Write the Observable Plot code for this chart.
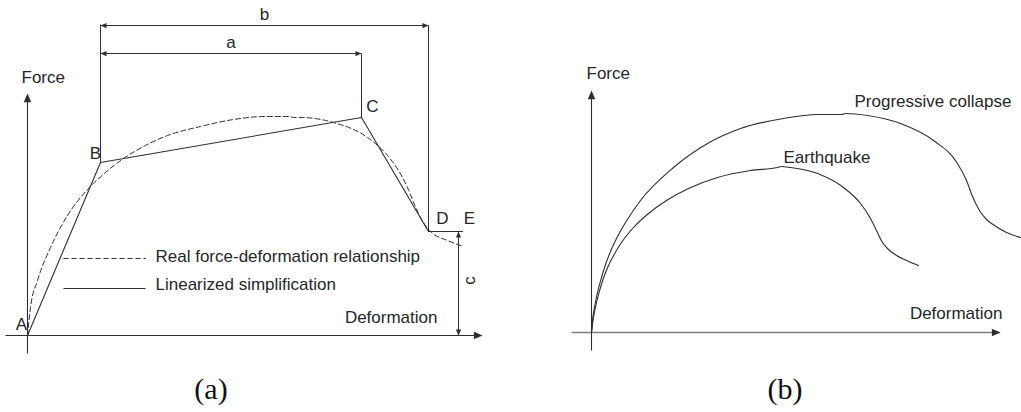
<!DOCTYPE html>
<html>
<head>
<meta charset="utf-8">
<script src="https://cdn.jsdelivr.net/npm/d3@7"></script>
<script src="https://cdn.jsdelivr.net/npm/@observablehq/plot@0.6"></script>
<style>
  body { margin: 0; background: #fff; }
  #figure { width: 1021px; position: relative; }
  #panels { display: flex; }
  #captions { position: relative; height: 52px; font-family: "Liberation Serif", "Times New Roman", serif; font-size: 30px; color: #111; }
  #captions span { position: absolute; top: 14px; transform: translateX(-50%); line-height: 1; }
</style>
</head>
<body>
<div id="figure">
  <div id="panels"></div>
  <div id="captions"></div>
</div>
<script>
// ---- Panel (a): real curve vs. linearized (A-B-C-D-E) simplification ----
const pointLabels = ["A", "B", "C", "D", "E"];
const pointDeformation = [0, 73, 334, 401, 435];
const pointForce = [0, 173, 218, 104, 104];

const realDeformation = [0, 3, 10, 23, 40, 60, 78, 96, 118, 140, 173, 206, 238, 262, 266, 273, 306, 340, 360, 371, 380, 387, 394, 403, 420, 436];
const realForce = [0, 28, 55, 88, 120, 146, 163, 177, 190, 200, 209, 216, 219, 219, 218, 218, 213, 198, 180, 165, 148, 131, 116, 104, 95, 89];

const legendLabels = ["Real force-deformation relationship", "Linearized simplification"];
const dimensionLabels = ["a", "b", "c"];

// ---- Panel (b): earthquake vs. progressive collapse ----
const progressiveDeformation = [0, 1, 3, 6, 10, 14, 19, 25, 34, 49, 82, 116, 149, 192, 226, 250, 254, 276, 309, 342, 366, 375, 381, 388, 395, 403, 415, 429];
const progressiveForce = [0, 12, 25, 40, 55, 68, 81, 94, 110, 132, 165, 189, 204, 214, 218, 218, 219, 217, 209, 192, 169, 152, 136, 122, 113, 107, 100, 95];
const earthquakeDeformation = [0, 2, 5, 9, 14, 21, 30, 42, 57, 75, 97, 126, 159, 186, 190, 199, 226, 252, 269, 279, 285, 291, 297, 305, 315, 327];
const earthquakeForce = [0, 15, 30, 45, 60, 75, 90, 105, 119, 132, 144, 155, 162, 165, 166, 165, 159, 145, 129, 114, 102, 90, 83, 77, 72, 67];
const seriesLabels = ["Progressive collapse", "Earthquake"];

const axisLabels = ["Force", "Deformation"];
const captionLabels = ["(a)", "(b)"];

// ---- shared styling ----
const font = "'Liberation Sans', Arial, Helvetica, sans-serif";
const ink = "#2b2f33";
const textInk = "#24272a";

// Filled arrowhead with its tip at the anchor point, pointing up before rotation.
const arrowHead = {
  draw(context, size) {
    const r = Math.sqrt(size / Math.PI);
    const h = r * 2.4, w = r * 1.05;
    context.moveTo(0, 0);
    context.lineTo(w, h);
    context.lineTo(-w, h);
    context.closePath();
  }
};

const zip = (xs, ys) => xs.map((x, i) => ({x, y: ys[i]}));

// ================= Panel (a) =================
const keyPoints = pointLabels.map((label, i) => ({label, x: pointDeformation[i], y: pointForce[i]}));
const [A, B, C, D, E] = keyPoints;
const realCurve = zip(realDeformation, realForce);

const levelA = 282, levelB = 310, cOffset = 30;
const cX = D.x + cOffset;
const axisA = {x0: -22, x1: 455, y0: -18, y1: 242};

const labelOffsets = {A: [-6, -11], B: [-5, -9], C: [11, -11], D: [14, -13], E: [7, -13]};

const legendA = {x0: 36, x1: 118, xText: 128, y: [77, 47], yText: [79, 51]};
const textStyle = {fontSize: 17, fontFamily: font, fill: textInk};

const plotA = Plot.plot({
  width: 500, height: 360, margin: 0,
  x: {domain: [-27, 473], axis: null},
  y: {domain: [-25, 335], axis: null},
  style: {background: "transparent"},
  marks: [
    // axes
    Plot.link([{}], {x1: axisA.x0, x2: axisA.x1 - 4, y1: 0, y2: 0, stroke: ink, strokeWidth: 1.1}),
    Plot.link([{}], {x1: 0, x2: 0, y1: axisA.y0, y2: axisA.y1 - 4, stroke: ink, strokeWidth: 1.1}),
    Plot.dot([{x: axisA.x1, y: 0}], {x: "x", y: "y", symbol: arrowHead, r: 3.6, rotate: 90, fill: ink, stroke: "none"}),
    Plot.dot([{x: 0, y: axisA.y1}], {x: "x", y: "y", symbol: arrowHead, r: 3.6, rotate: 0, fill: ink, stroke: "none"}),

    // extension lines for the dimensions
    Plot.link([{}], {x1: B.x, x2: B.x, y1: B.y, y2: levelB + 1, stroke: ink, strokeWidth: 1}),
    Plot.link([{}], {x1: C.x, x2: C.x, y1: C.y, y2: levelA, stroke: ink, strokeWidth: 1}),
    Plot.link([{}], {x1: D.x, x2: D.x, y1: D.y, y2: levelB, stroke: ink, strokeWidth: 1}),

    // dimension lines a, b (horizontal) and c (vertical)
    Plot.link([{}], {x1: B.x, x2: C.x, y1: levelA, y2: levelA, stroke: ink, strokeWidth: 1}),
    Plot.link([{}], {x1: B.x, x2: D.x, y1: levelB, y2: levelB, stroke: ink, strokeWidth: 1}),
    Plot.link([{}], {x1: cX, x2: cX, y1: 0, y2: D.y, stroke: ink, strokeWidth: 1}),
    Plot.dot([
      {x: B.x, y: levelA, rot: -90}, {x: C.x, y: levelA, rot: 90},
      {x: B.x, y: levelB, rot: -90}, {x: D.x, y: levelB, rot: 90},
      {x: cX, y: D.y, rot: 0}, {x: cX, y: 0, rot: 180}
    ], {x: "x", y: "y", symbol: arrowHead, r: 2.5, rotate: "rot", fill: ink, stroke: "none"}),
    Plot.text([dimensionLabels[0]], {x: (B.x + C.x) / 2, y: levelA, dy: -11, text: d => d, ...textStyle}),
    Plot.text([dimensionLabels[1]], {x: (B.x + D.x) / 2, y: levelB, dy: -11, text: d => d, ...textStyle}),
    Plot.text([dimensionLabels[2]], {x: cX, y: D.y / 2, dx: 11, dy: -3, text: d => d, rotate: -90, ...textStyle}),

    // real force-deformation relationship (dashed)
    Plot.line(realCurve, {x: "x", y: "y", curve: "monotone-x", stroke: ink, strokeWidth: 1, strokeDasharray: "5,3"}),
    // linearized simplification
    Plot.line(keyPoints, {x: "x", y: "y", stroke: ink, strokeWidth: 1.1}),

    // point labels
    ...keyPoints.map(p => Plot.text([p], {x: "x", y: "y", text: "label", dx: labelOffsets[p.label][0], dy: labelOffsets[p.label][1], ...textStyle})),

    // legend: dashed sample, solid sample and their labels
    Plot.link([{}], {x1: legendA.x0, x2: legendA.x1, y1: legendA.y[0], y2: legendA.y[0], stroke: ink, strokeWidth: 1, strokeDasharray: "5,3"}),
    Plot.link([{}], {x1: legendA.x0, x2: legendA.x1, y1: legendA.y[1], y2: legendA.y[1], stroke: ink, strokeWidth: 1}),
    Plot.text(legendLabels, {x: legendA.xText, y: (d, i) => legendA.yText[i], text: d => d, textAnchor: "start", ...textStyle}),

    // axis titles
    Plot.text([axisLabels[0]], {x: -6, y: 258, text: d => d, textAnchor: "start", ...textStyle}),
    Plot.text([axisLabels[1]], {x: 410, y: 18, text: d => d, textAnchor: "end", ...textStyle})
  ]
});

// ================= Panel (b) =================
const progressive = zip(progressiveDeformation, progressiveForce);
const earthquake = zip(earthquakeDeformation, earthquakeForce);
const axisB = {x0: -20, x1: 409, y0: -18, y1: 242};

const plotB = Plot.plot({
  width: 521, height: 360, margin: 0,
  x: {domain: [-91, 430], axis: null},
  y: {domain: [-28, 332], axis: null},
  style: {background: "transparent"},
  marks: [
    Plot.link([{}], {x1: axisB.x0, x2: axisB.x1 - 4, y1: 0, y2: 0, stroke: "#7d8082", strokeWidth: 1.4}),
    Plot.link([{}], {x1: 0, x2: 0, y1: axisB.y0, y2: axisB.y1 - 4, stroke: ink, strokeWidth: 1.1}),
    Plot.dot([{x: axisB.x1, y: 0}], {x: "x", y: "y", symbol: arrowHead, r: 3.6, rotate: 90, fill: ink, stroke: "none"}),
    Plot.dot([{x: 0, y: axisB.y1}], {x: "x", y: "y", symbol: arrowHead, r: 3.6, rotate: 0, fill: ink, stroke: "none"}),

    Plot.line(progressive, {x: "x", y: "y", curve: "monotone-x", stroke: ink, strokeWidth: 1.1}),
    Plot.line(earthquake, {x: "x", y: "y", curve: "monotone-x", stroke: ink, strokeWidth: 1.1}),

    Plot.text([seriesLabels[0]], {x: 263, y: 231, text: d => d, textAnchor: "start", ...textStyle}),
    Plot.text([seriesLabels[1]], {x: 192, y: 175, text: d => d, textAnchor: "start", ...textStyle}),

    Plot.text([axisLabels[0]], {x: -5, y: 259, text: d => d, textAnchor: "start", ...textStyle}),
    Plot.text([axisLabels[1]], {x: 411, y: 19, text: d => d, textAnchor: "end", ...textStyle})
  ]
});

document.getElementById("panels").append(plotA, plotB);

// captions under each panel
const captionCenters = [211, 785];
const captions = document.getElementById("captions");
captionLabels.forEach((label, i) => {
  const span = document.createElement("span");
  span.textContent = label;
  span.style.left = captionCenters[i] + "px";
  captions.append(span);
});
</script>
</body>
</html>
